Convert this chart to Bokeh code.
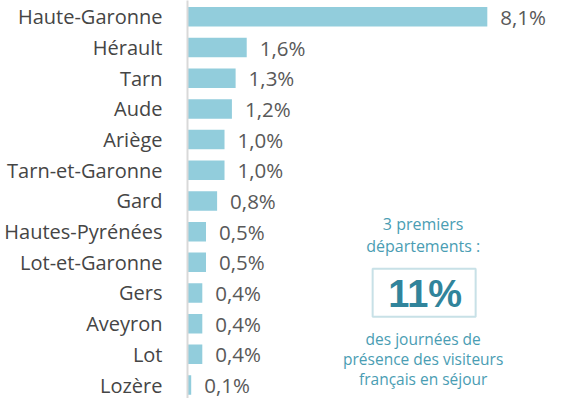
from bokeh.plotting import figure
from bokeh.models import Range1d, FixedTicker, BoxAnnotation, ColumnDataSource, LabelSet
from bokeh.core.properties import value
from bokeh.embed import file_html
from bokeh.resources import INLINE

departements = ["Haute-Garonne", "Hérault", "Tarn", "Aude", "Ariège", "Tarn-et-Garonne",
                "Gard", "Hautes-Pyrénées", "Lot-et-Garonne", "Gers", "Aveyron", "Lot", "Lozère"]
parts = [8.1, 1.6, 1.3, 1.2, 1.0, 1.0, 0.8, 0.5, 0.5, 0.4, 0.4, 0.4, 0.1]
part_labels = ["8,1%", "1,6%", "1,3%", "1,2%", "1,0%", "1,0%", "0,8%", "0,5%", "0,5%",
               "0,4%", "0,4%", "0,4%", "0,1%"]
callout_top = ["3 premiers", "départements :"]
callout_value = "11%"
callout_bottom = ["des journées de", "présence des visiteurs", "français en séjour"]

n = len(departements)
ypos = [n - 1 - i for i in range(n)]

# layout: the reference design (565x414) scaled into a 549x398 canvas
W, H = 549, 398
SX, SY = W / 565, H / 414
LEFT = 187
px_per_x = (501 * SX - LEFT) / 8.1
X_END = (W - LEFT) / px_per_x
row_px = (400 - 17) * SY / (n - 1)
Y_END = (n - 1) + 17 * SY / row_px
Y_START = -(H - 400 * SY) / row_px

FONT = "Open Sans"

p = figure(width=W, height=H, output_backend="svg", toolbar_location=None, title=None,
           x_range=Range1d(0, X_END), y_range=Range1d(Y_START, Y_END),
           min_border_left=LEFT, min_border_right=0, min_border_top=0, min_border_bottom=0)
p.frame_width = W - LEFT
p.frame_height = H
p.outline_line_color = None
p.background_fill_color = "white"
p.border_fill_color = "white"
p.xgrid.visible = False
p.ygrid.visible = False
p.xaxis.visible = False

src = ColumnDataSource(dict(y=ypos, v=parts, lab=part_labels, name=departements))
p.hbar(y="y", right="v", left=0, height=19.5 / row_px, source=src,
       fill_color="#92CDDC", line_color=None)
p.add_layout(LabelSet(x="v", y="y", text="lab", source=src, x_offset=13, text_align="left",
                      text_baseline="middle", text_font=value(FONT), text_font_size="20.5px",
                      text_color="#595959"))

ax = p.yaxis[0]
ax.ticker = FixedTicker(ticks=ypos)
ax.major_label_overrides = {y: d for y, d in zip(ypos, departements)}
ax.major_tick_line_color = None
ax.minor_tick_line_color = None
ax.axis_line_color = "#D9D9D9"
ax.axis_line_width = 2
ax.major_label_standoff = 19
ax.major_label_text_font = FONT
ax.major_label_text_font_size = "20px"
ax.major_label_text_color = "#454545"

# helpers converting reference pixel positions of the callout into data units
def xd(rx):
    return (rx * SX - LEFT) / px_per_x
def yd(ry):
    return Y_END - ry * SY / row_px

cx = xd(435)
teal_light = "#4A9DB3"
teal = "#31849B"
top_y = [yd(233), yd(255)]
bot_y = [yd(352), yd(373), yd(394)]
p.text(x=[cx] * 2, y=top_y, text=callout_top, text_align="center", text_baseline="middle",
       text_font=value(FONT), text_font_size="16px", text_color=teal_light)
p.text(x=[cx] * 3, y=bot_y, text=callout_bottom, text_align="center", text_baseline="middle",
       text_font=value(FONT), text_font_size="15.5px", text_color=teal_light)
p.text(x=[xd(437)], y=[yd(305)], text=[callout_value], text_align="center", text_baseline="middle",
       text_font=value("Liberation Sans"), text_font_style="bold", text_font_size="38px", text_color=teal)
p.add_layout(BoxAnnotation(left=xd(383), right=xd(489), top=yd(279), bottom=yd(329),
                           fill_color=None, fill_alpha=0, line_color="#4A9AB0", line_width=2))

open("out.html", "w").write(file_html(p, INLINE))
